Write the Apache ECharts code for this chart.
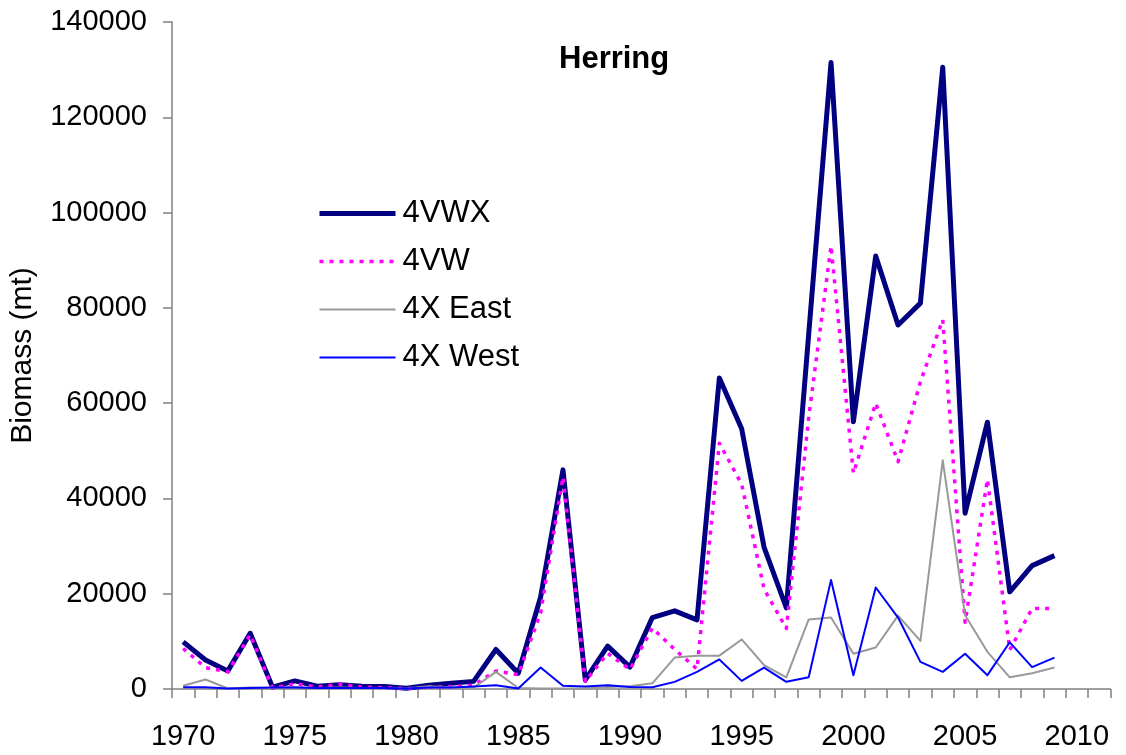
<!DOCTYPE html>
<html>
<head>
<meta charset="utf-8">
<title>Herring</title>
<script src="https://cdn.jsdelivr.net/npm/echarts@6/dist/echarts.min.js"></script>
<style>
  html, body { margin: 0; padding: 0; background: #ffffff; }
  #chart { width: 1126px; height: 755px; }
</style>
</head>
<body>
<div id="chart"></div>
<script>
// Years on the category axis (axis runs a little past the last survey year)
const years = [];
for (let y = 1970; y <= 2011; y++) years.push(String(y));

// Biomass (mt) by area, 1970-2009
const biomass4VWX = [
  9900, 6100, 3800, 11700, 400, 1700, 600, 900, 600, 500,
  150, 800, 1200, 1600, 8300, 3300, 19300, 46000, 1900, 9000,
  4600, 15000, 16400, 14500, 65300, 54600, 29800, 17000, 74500, 131500,
  56100, 90900, 76400, 81000, 130500, 36900, 56000, 20400, 25900, 28000
];
const biomass4VW = [
  8500, 4500, 3600, 11400, 200, 1100, 400, 1000, 400, 300,
  100, 400, 500, 800, 3800, 3000, 16000, 44500, 1600, 7500,
  4100, 12800, 8300, 4200, 51600, 43000, 21000, 12700, 57000, 93000,
  45300, 60000, 47700, 64500, 77500, 14000, 44000, 8200, 16900, 16900
];
const biomass4XEast = [
  700, 2000, 100, 300, 200, 400, 200, 300, 200, 200,
  100, 600, 300, 300, 3600, 200, 100, 100, 100, 400,
  600, 1200, 6600, 7000, 7000, 10400, 5000, 2450, 14600, 15000,
  7400, 8700, 15400, 10100, 48000, 15500, 7800, 2450, 3300, 4500
];
const biomass4XWest = [
  350, 350, 100, 200, 300, 300, 200, 200, 200, 200,
  100, 300, 300, 500, 800, 100, 4500, 700, 500, 800,
  400, 350, 1500, 3600, 6200, 1700, 4500, 1500, 2450, 22900,
  2900, 21300, 15000, 5700, 3600, 7400, 2900, 9800, 4600, 6600
];

const seriesNames = ['4VWX', '4VW', '4X East', '4X West'];
const FONT = '"Liberation Sans", Arial, sans-serif';
const AXIS_COLOR = '#808080';

const chart = echarts.init(document.getElementById('chart'), null, { renderer: 'canvas' });

function lineSeries(name, data, color, width, type) {
  return {
    name: name,
    type: 'line',
    data: data,
    symbol: 'none',
    showSymbol: false,
    silent: true,
    lineStyle: { color: color, width: width, type: type || 'solid', join: 'round', cap: 'butt' },
    itemStyle: { color: color }
  };
}

chart.setOption({
  animation: false,
  backgroundColor: '#ffffff',
  title: {
    text: 'Herring',
    left: 559,
    top: 44,
    padding: 0,
    textStyle: { fontFamily: FONT, fontSize: 31, fontWeight: 'bold', color: '#000000', lineHeight: 31 }
  },
  legend: {
    orient: 'vertical',
    left: 317,
    top: 198,
    padding: 0,
    itemWidth: 76,
    itemHeight: 14,
    itemGap: 17,
    data: seriesNames,
    // plain line keys: hide the marker dot, keep each series' own line width and dash
    itemStyle: { opacity: 0 },
    lineStyle: { width: 'inherit', type: 'inherit', color: 'inherit' },
    textStyle: { fontFamily: FONT, fontSize: 31, color: '#000000', lineHeight: 31, padding: [0, 0, 0, 2] }
  },
  grid: { left: 172, top: 22, width: 938.3, height: 667, containLabel: false },
  xAxis: {
    type: 'category',
    data: years,
    boundaryGap: true,
    axisLine: { show: true, lineStyle: { color: AXIS_COLOR, width: 1.5 } },
    axisTick: { show: true, interval: 0, length: 9, lineStyle: { color: AXIS_COLOR, width: 1.5 } },
    axisLabel: {
      interval: 4,
      margin: 33,
      fontFamily: FONT,
      fontSize: 29,
      color: '#000000',
      lineHeight: 29
    },
    splitLine: { show: false }
  },
  yAxis: {
    type: 'value',
    min: 0,
    max: 140000,
    interval: 20000,
    name: 'Biomass (mt)',
    nameLocation: 'middle',
    nameRotate: 90,
    nameGap: 134,
    nameTextStyle: { fontFamily: FONT, fontSize: 30, color: '#000000' },
    axisLine: { show: true, lineStyle: { color: AXIS_COLOR, width: 1.5 } },
    axisTick: { show: true, length: 9, lineStyle: { color: AXIS_COLOR, width: 1.5 } },
    axisLabel: {
      margin: 25,
      fontFamily: FONT,
      fontSize: 29,
      color: '#000000',
      formatter: function (v) { return String(v); }
    },
    splitLine: { show: false }
  },
  series: [
    lineSeries('4VWX', biomass4VWX, '#000080', 5),
    lineSeries('4VW', biomass4VW, '#FF00FF', 3.5, [4, 6]),
    lineSeries('4X East', biomass4XEast, '#999999', 2),
    lineSeries('4X West', biomass4XWest, '#0000FF', 2)
  ]
});
</script>
</body>
</html>
